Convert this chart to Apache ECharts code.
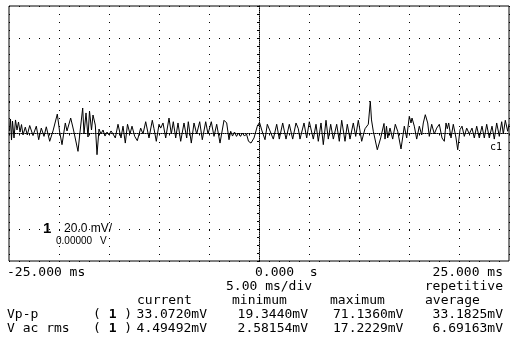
<!DOCTYPE html>
<html>
<head>
<meta charset="utf-8">
<script src="https://cdn.jsdelivr.net/npm/echarts@6/dist/echarts.min.js"></script>
<style>
  html, body { margin: 0; padding: 0; background: #fff; }
  #scope { width: 512px; height: 340px; }
</style>
</head>
<body>
<div id="scope"></div>
<script>
// Channel 1 trace: turning points of the acquired waveform (time in ms, level in mV)
const tMs = [
  -24.95, -24.85, -24.75, -24.65, -24.5, -24.35, -24.2, -24.05, -23.9, -23.75,
  -23.6, -23.37, -23.17, -22.93, -22.6, -22.27, -22.03, -21.77, -21.5, -21.27,
  -20.93, -20.6, -20.17, -19.95, -19.7, -19.37, -19.2, -18.83, -18.55, -18.1,
  -17.9, -17.63, -17.5, -17.3, -17.1, -16.95, -16.75, -16.6, -16.37, -16.2,
  -16.0, -15.8, -15.6, -15.4, -15.2, -15.0, -14.8, -14.6, -14.37, -14.1,
  -13.8, -13.6, -13.37, -13.15, -12.9, -12.7, -12.43,
  -12.17, -11.83, -11.6, -11.33, -11.0, -10.67, -10.5, -10.27, -10.0, -9.83,
  -9.6, -9.33, -9.0, -8.77, -8.57, -8.33, -8.1, -7.83, -7.5, -7.23,
  -7.07, -6.77, -6.5, -6.23, -5.93, -5.67, -5.33, -5.1, -4.77, -4.5,
  -4.23, -3.9, -3.5, -3.23, -3.0, -2.83, -2.65, -2.45, -2.25, -2.05,
  -1.85, -1.65, -1.45, -1.25, -1.05, -0.8, -0.5, -0.17, 0.05, 0.3,
  0.6,
  0.83, 1.1, 1.43, 1.77, 2.03, 2.37, 2.7, 3.03, 3.37, 3.7,
  3.93, 4.1, 4.5, 4.77, 5.03, 5.43, 5.7, 5.93, 6.2, 6.43,
  6.7, 6.93, 7.17, 7.43, 7.77, 8.03, 8.27, 8.6, 8.83, 9.1,
  9.43, 9.67, 9.93, 10.27, 10.6, 10.93, 11.13, 11.25, 11.43, 11.83,
  12.17, 12.5, 12.6, 12.75,
  12.87, 13.1, 13.37, 13.63, 13.87, 14.2, 14.53, 14.77, 15.03, 15.2,
  15.3, 15.53, 15.77, 16.03, 16.27, 16.43, 16.63, 16.87, 17.03, 17.27,
  17.53, 17.77, 18.03, 18.3, 18.53, 18.7, 18.83, 18.97, 19.2, 19.43,
  19.7, 19.87, 20.1, 20.3, 20.53, 20.77, 21.03, 21.3, 21.53, 21.77,
  22.03, 22.3, 22.53, 22.77, 23.03, 23.3, 23.53, 23.77, 24.03, 24.27,
  24.43, 24.63, 24.87, 25.0
];
const mV = [
  1.6, 9.1, -4.1, 7.8, -2.8, 8.5, 2.2, 7.2, 0.9, 5.6,
  -0.9, 4.0, -0.9, 5.0, -1.3, 4.6, -3.9, 3.4, -1.8, 4.2,
  -4.9, 1.6, 12.2, 1.6, -7.0, 6.6, 1.6, 9.7, 2.2, -11.2,
  0.9, 16.0, -0.3, 12.9, -2.2, 14.1, 2.2, 11.6, 5.3, -13.3,
  2.8, -0.3, 2.2, -1.6, 0.9, -0.9, 1.6, -0.3, -2.8, 5.8,
  -2.8, 4.6, -6.0, 5.8, -0.3, 4.6, -1.8,
  -4.5, 3.4, -0.3, 7.4, -2.8, 8.3, 3.0, -4.9, 5.8, 3.4,
  6.6, -2.8, 9.7, -0.3, 7.4, -2.8, 6.6, -4.9, 6.6, -2.8,
  7.4, -6.0, 6.6, -0.3, 7.4, -3.9, 7.4, -0.3, 7.4, -1.8,
  5.8, -6.0, 8.3, 6.6, -3.9, 1.4, -1.6, 0.9, -1.8, 0.3,
  -1.8, 0.3, -1.6, -0.3, -4.9, -6.0, -2.8, 4.6, 7.0, 1.6,
  -3.9,
  5.8, 1.6, -3.5, 5.8, -3.5, 6.6, -3.5, 5.8, -3.5, 6.6,
  3.0, -3.5, 6.6, -2.8, 7.4, -3.5, 5.8, -4.9, 6.6, -7.0,
  8.3, -3.5, 5.8, -3.5, 5.8, -4.9, 8.3, -4.9, 5.8, -3.5,
  6.6, -1.8, 8.3, -4.9, 3.0, 5.8, 20.2, 8.5, 1.4, -10.2,
  -2.8, 6.3, -3.5, 4.6,
  -2.8, 3.4, -3.5, 5.8, 1.4, -9.7, 4.6, -2.8, 10.8, 6.6,
  9.7, 4.6, -3.5, 4.6, -0.9, 6.6, 11.8, 6.6, -1.8, 5.8,
  -0.3, 3.4, 5.8, -2.8, -4.9, 6.6, 3.0, 6.6, -2.8, 5.8,
  -2.8, -10.2, 2.4, 4.6, -1.8, 3.4, -0.3, 3.4, -2.8, 4.6,
  -2.8, 4.6, -2.8, 5.8, -2.8, 4.6, -3.5, 6.6, -1.8, 7.4,
  -0.3, 8.3, 1.4, 5.8
];

// Timebase / scale read-outs
const timeLabels = ['-25.000 ms', '0.000  s', '25.000 ms'];
const timebase = '5.00 ms/div';
const acqMode = 'repetitive';
const chScale = '20.0 mV/';
const chOffset = '0.00000';

// Measurement table
const statHeaders = ['current', 'minimum', 'maximum', 'average'];
const vppStats = ['33.0720mV', '19.3440mV', '71.1360mV', '33.1825mV'];
const vrmsStats = ['4.49492mV', '2.58154mV', '17.2229mV', '6.69163mV'];

const MONO = '13px "DejaVu Sans Mono", monospace';
const MONO_B = 'bold 13px "DejaVu Sans Mono", monospace';
const SANS = '"Liberation Sans", Arial, sans-serif';

function txt(text, x, y, align, font) {
  return {
    type: 'text', x: x, y: y, silent: true,
    style: {
      text: text, fill: '#000', font: font || MONO,
      align: align || 'left', verticalAlign: 'middle',
      rich: { b: { font: MONO_B, fill: '#000' } }
    }
  };
}

const rowY = [272.5, 286.5, 300.5, 315, 329];
// [x, align] for each measurement column
const valCols = [[207, 'right'], [308, 'right'], [333, 'left'], [503, 'right']];
const headLeft = [137, 232, 330, 425];

const graphics = [
  txt(timeLabels[0], 7, rowY[0]),
  txt(timeLabels[1], 255, rowY[0]),
  txt(timeLabels[2], 503, rowY[0], 'right'),
  txt(timebase, 226, rowY[1]),
  txt(acqMode, 503, rowY[1], 'right'),
  txt('Vp-p', 7, rowY[3]),
  txt('( {b|1} )', 93, rowY[3]),
  txt('V ac rms', 7, rowY[4]),
  txt('( {b|1} )', 93, rowY[4]),
  // channel scale box inside the graticule
  txt('1', 43, 228.5, 'left', 'bold 15px ' + SANS),
  txt(chScale, 64, 228.5, 'left', '12px ' + SANS),
  txt(chOffset, 56, 241, 'left', '10px ' + SANS),
  txt('V', 100, 241, 'left', '10px ' + SANS),
  txt('c1', 490, 147, 'left', '10px "DejaVu Sans Mono", monospace')
];
statHeaders.forEach((h, i) => graphics.push(txt(h, headLeft[i], rowY[2])));
vppStats.forEach((v, i) => graphics.push(txt(v, valCols[i][0], rowY[3], valCols[i][1])));
vrmsStats.forEach((v, i) => graphics.push(txt(v, valCols[i][0], rowY[4], valCols[i][1])));

const chart = echarts.init(document.getElementById('scope'), null, { renderer: 'canvas' });
chart.setOption({
  animation: false,
  backgroundColor: '#fff',
  grid: {
    left: 9, top: 6, width: 500, height: 255,
    show: true, borderColor: '#000', borderWidth: 1, backgroundColor: 'transparent'
  },
  xAxis: {
    type: 'value', min: -25, max: 25, interval: 5,
    axisLine: { onZero: true, lineStyle: { color: '#000', width: 1, type: [1, 1] } },
    axisTick: { show: true, length: 2, lineStyle: { color: '#000' } },
    minorTick: { show: true, splitNumber: 5, length: 2, lineStyle: { color: '#000' } },
    axisLabel: { show: false },
    splitLine: { show: true, lineStyle: { color: '#000', width: 1, type: [1, 7] } }
  },
  yAxis: {
    type: 'value', min: -80, max: 80, interval: 20,
    axisLine: { onZero: true, lineStyle: { color: '#000', width: 1, type: [1, 1] } },
    axisTick: { show: true, length: 2, lineStyle: { color: '#000' } },
    minorTick: { show: true, splitNumber: 4, length: 2, lineStyle: { color: '#000' } },
    axisLabel: { show: false },
    splitLine: { show: true, lineStyle: { color: '#000', width: 1, type: [1, 9] } }
  },
  series: [{
    type: 'line',
    data: tMs.map((t, i) => [t, mV[i]]),
    symbol: 'none',
    silent: true,
    lineStyle: { color: '#000', width: 1 },
    clip: true
  }],
  graphic: graphics
});
</script>
</body>
</html>
